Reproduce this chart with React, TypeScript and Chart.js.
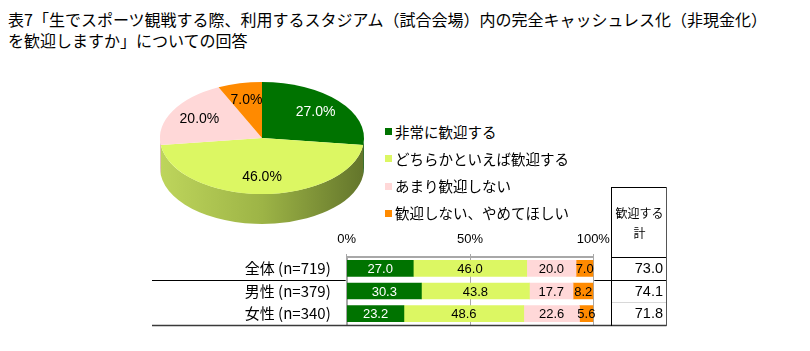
import React, { useEffect, useRef } from "react";
import { Chart, registerables } from "chart.js";

Chart.register(...registerables);

// ---------- data ----------
const TITLE_LINES = [
  "表7「生でスポーツ観戦する際、利用するスタジアム（試合会場）内の完全キャッシュレス化（非現金化）",
  "を歓迎しますか」についての回答",
];
const CATEGORIES = ["非常に歓迎する", "どちらかといえば歓迎する", "あまり歓迎しない", "歓迎しない、やめてほしい"];
const PIE_VALUES = [27.0, 46.0, 20.0, 7.0];
const GROUPS = ["全体 (n=719)", "男性 (n=379)", "女性 (n=340)"];
const VERY_WELCOME = [27.0, 30.3, 23.2];
const RATHER_WELCOME = [46.0, 43.8, 48.6];
const NOT_MUCH = [20.0, 17.7, 22.6];
const NOT_WELCOME = [7.0, 8.2, 5.6];
const TOTAL_HEADER = ["歓迎する", "計"];
const WELCOME_TOTAL = [73.0, 74.1, 71.8];

// ---------- styles ----------
const COLORS = ["#007300", "#dcf763", "#ffd8d8", "#ff8a00"];
const LABEL_COLORS = ["#ffffff", "#000000", "#000000", "#000000"];
const CJK = '"Noto Sans CJK JP", "Noto Sans", sans-serif';
const LATIN = '"Liberation Sans", Arial, sans-serif';

const PIE_K = 56 / 102;
const PIE_DEPTH = 30;

const pie3dPlugin = {
  id: "pie3d",
  beforeDatasetsDraw(chart: any) {
    const meta = chart.getDatasetMeta(0);
    const first = meta.data[0];
    const cx = first.x;
    const cy = first.y;
    const r = first.outerRadius;
    const ctx = chart.ctx;
    ctx.save();
    ctx.translate(cx, cy);
    ctx.scale(1, PIE_K);
    ctx.translate(-cx, -cy);
    const D = PIE_DEPTH / PIE_K;
    const TWO = Math.PI * 2;
    meta.data.forEach((arc: any, i: number) => {
      const s = arc.startAngle;
      const e = arc.endAngle;
      for (const off of [0, TWO, -TWO]) {
        const lo = Math.max(s, off);
        const hi = Math.min(e, off + Math.PI);
        if (hi > lo) {
          let fill: any;
          if (i === 1) {
            const g = ctx.createLinearGradient(cx - r, 0, cx + r, 0);
            g.addColorStop(0, "#bed55c");
            g.addColorStop(0.5, "#9db446");
            g.addColorStop(1, "#63752b");
            fill = g;
          } else if (i === 0) {
            fill = "#004d00";
          } else if (i === 2) {
            fill = "#d9b3b3";
          } else {
            fill = "#c46a00";
          }
          ctx.beginPath();
          ctx.arc(cx, cy, r, lo, hi, false);
          ctx.arc(cx, cy + D, r, hi, lo, true);
          ctx.closePath();
          ctx.fillStyle = fill;
          ctx.fill();
        }
      }
    });
  },
  afterDatasetsDraw(chart: any) {
    const ctx = chart.ctx;
    ctx.restore();
    const meta = chart.getDatasetMeta(0);
    const values = chart.data.datasets[0].data;
    ctx.save();
    ctx.font = `14px ${LATIN}`;
    ctx.textAlign = "center";
    ctx.textBaseline = "middle";
    meta.data.forEach((arc: any, i: number) => {
      const mid = (arc.startAngle + arc.endAngle) / 2;
      const f = 0.7;
      const x = arc.x + f * arc.outerRadius * Math.cos(mid);
      const y = arc.y + f * arc.outerRadius * PIE_K * Math.sin(mid);
      ctx.fillStyle = LABEL_COLORS[i];
      ctx.fillText(values[i].toFixed(1) + "%", x, y);
    });
    ctx.restore();
  },
};

// Bar canvas origin on page
const BAR_LEFT = 140;
const BAR_TOP = 180;

const barLabelPlugin = {
  id: "barLabels",
  afterDatasetsDraw(chart: any) {
    const ctx = chart.ctx;
    ctx.save();
    ctx.font = `13px ${LATIN}`;
    ctx.textAlign = "center";
    ctx.textBaseline = "middle";
    chart.data.datasets.forEach((ds: any, di: number) => {
      const meta = chart.getDatasetMeta(di);
      meta.data.forEach((bar: any, i: number) => {
        const x = (bar.x + bar.base) / 2;
        ctx.fillStyle = LABEL_COLORS[di];
        ctx.fillText(Number(ds.data[i]).toFixed(1), x, bar.y + 1);
      });
    });
    ctx.restore();
  },
};

const tablePlugin = {
  id: "tableLines",
  afterDraw(chart: any) {
    const ctx = chart.ctx;
    const area = chart.chartArea;
    const yScale = chart.scales.y;
    const lineLeft = 152 - BAR_LEFT;
    const tLeft = 611 - BAR_LEFT;
    const tRight = 666 - BAR_LEFT;
    const tTop = 187 - BAR_TOP;
    const sep1 = (yScale.getPixelForValue(0) + yScale.getPixelForValue(1)) / 2;
    const sep2 = (yScale.getPixelForValue(1) + yScale.getPixelForValue(2)) / 2;
    ctx.save();
    // row separator
    ctx.strokeStyle = "#000";
    ctx.lineWidth = 1;
    ctx.beginPath();
    ctx.moveTo(lineLeft, Math.round(sep1) + 0.5);
    ctx.lineTo(area.left - 1, Math.round(sep1) + 0.5);
    ctx.moveTo(area.right + 1, Math.round(sep1) + 0.5);
    ctx.lineTo(tRight, Math.round(sep1) + 0.5);
    ctx.stroke();
    // bottom line
    ctx.strokeStyle = "#3a3a3a";
    ctx.lineWidth = 1.5;
    ctx.beginPath();
    ctx.moveTo(lineLeft, area.bottom + 0.5);
    ctx.lineTo(tRight + 0.5, area.bottom + 0.5);
    ctx.stroke();
    // table box
    ctx.strokeStyle = "#000";
    ctx.lineWidth = 1;
    ctx.beginPath();
    ctx.moveTo(tLeft + 0.5, tTop + 0.5);
    ctx.lineTo(tRight + 0.5, tTop + 0.5);
    ctx.moveTo(tLeft + 0.5, tTop);
    ctx.lineTo(tLeft + 0.5, area.bottom + 1);
    ctx.moveTo(tLeft, Math.round(area.top) + 0.5);
    ctx.lineTo(tRight + 0.5, Math.round(area.top) + 0.5);
    ctx.stroke();
    ctx.strokeStyle = "#555";
    ctx.beginPath();
    ctx.moveTo(tRight + 0.5, tTop);
    ctx.lineTo(tRight + 0.5, area.bottom + 1);
    ctx.stroke();
    // light separator in table
    ctx.strokeStyle = "#d8d8d8";
    ctx.beginPath();
    ctx.moveTo(tLeft + 1, Math.round(sep2) + 0.5);
    ctx.lineTo(tRight, Math.round(sep2) + 0.5);
    ctx.stroke();
    // header text
    ctx.fillStyle = "#000";
    ctx.textAlign = "center";
    ctx.textBaseline = "middle";
    ctx.font = `12px ${CJK}`;
    const hx = (tLeft + tRight) / 2 + 1;
    ctx.fillText(TOTAL_HEADER[0], hx, 213 - BAR_TOP);
    ctx.fillText(TOTAL_HEADER[1], hx, 233 - BAR_TOP);
    // values
    ctx.font = `14.5px ${LATIN}`;
    ctx.textAlign = "right";
    WELCOME_TOTAL.forEach((v, i) => {
      ctx.fillText(v.toFixed(1), tRight - 3, yScale.getPixelForValue(i) + 0.5);
    });
    ctx.restore();
  },
};

export default function App() {
  const pieRef = useRef<HTMLCanvasElement | null>(null);
  const barRef = useRef<HTMLCanvasElement | null>(null);

  useEffect(() => {
    const pie = new Chart(pieRef.current as HTMLCanvasElement, {
      type: "pie",
      data: {
        labels: CATEGORIES,
        datasets: [
          {
            data: PIE_VALUES,
            backgroundColor: COLORS,
            borderWidth: 0,
          },
        ],
      },
      options: {
        animation: false,
        responsive: false,
        events: [],
        layout: { padding: 13 },
        plugins: { legend: { display: false }, tooltip: { enabled: false } },
      },
      plugins: [pie3dPlugin],
    } as any);

    const seriesData = [VERY_WELCOME, RATHER_WELCOME, NOT_MUCH, NOT_WELCOME];
    const bar = new Chart(barRef.current as HTMLCanvasElement, {
      type: "bar",
      data: {
        labels: GROUPS,
        datasets: seriesData.map((d, i) => ({
          label: CATEGORIES[i],
          data: d,
          backgroundColor: COLORS[i],
          borderWidth: 0,
          barThickness: 16,
        })),
      },
      options: {
        indexAxis: "y",
        animation: false,
        responsive: false,
        events: [],
        layout: { padding: { top: 45, right: 86.7, bottom: 26, left: 0 } },
        plugins: { legend: { display: false }, tooltip: { enabled: false } },
        scales: {
          x: {
            type: "linear",
            position: "top",
            stacked: true,
            min: 0,
            max: 100,
            ticks: {
              stepSize: 50,
              color: "#000",
              padding: 7,
              font: { size: 13, family: LATIN },
              callback: (v: any) => v + "%",
            },
            grid: { color: "#a8a8a8", lineWidth: 1, tickLength: 3 },
            border: { color: "#a8a8a8", width: 2 },
            afterFit: (s: any) => {
              s.height = 32;
            },
          },
          y: {
            stacked: true,
            position: "left",
            ticks: { color: "#000", padding: 16, autoSkip: false, font: { size: 15, family: CJK } },
            grid: { display: false, drawTicks: false },
            border: { color: "#a8a8a8", width: 2 },
            afterFit: (s: any) => {
              s.width = 206.7;
            },
          },
        },
      },
      plugins: [barLabelPlugin, tablePlugin],
    } as any);

    return () => {
      pie.destroy();
      bar.destroy();
    };
  }, []);

  return (
    <div
      style={{
        position: "absolute",
        left: 0,
        top: 0,
        width: 810,
        height: 351,
        background: "#fff",
        overflow: "hidden",
        fontFamily: CJK,
      }}
    >
      <div
        style={{
          position: "absolute",
          left: 8,
          top: 9,
          fontSize: 16,
          lineHeight: "21px",
          color: "#000",
          whiteSpace: "nowrap",
        }}
      >
        {TITLE_LINES.map((t, i) => (
          <div key={i}>{t}</div>
        ))}
      </div>
      <canvas
        ref={pieRef}
        width={230}
        height={230}
        style={{ position: "absolute", left: 147, top: 23, width: 230, height: 230 }}
      />
      {CATEGORIES.map((c, i) => (
        <div
          key={c}
          style={{
            position: "absolute",
            left: 385,
            top: 121.7 + i * 27.2,
            height: 20,
            display: "flex",
            alignItems: "center",
            whiteSpace: "nowrap",
          }}
        >
          <span style={{ display: "inline-block", width: 7, height: 7, background: COLORS[i] }} />
          <span style={{ marginLeft: 3, fontSize: 14.5, lineHeight: "20px", color: "#000" }}>{c}</span>
        </div>
      ))}
      <canvas
        ref={barRef}
        width={540}
        height={171}
        style={{ position: "absolute", left: BAR_LEFT, top: BAR_TOP, width: 540, height: 171 }}
      />
    </div>
  );
}
